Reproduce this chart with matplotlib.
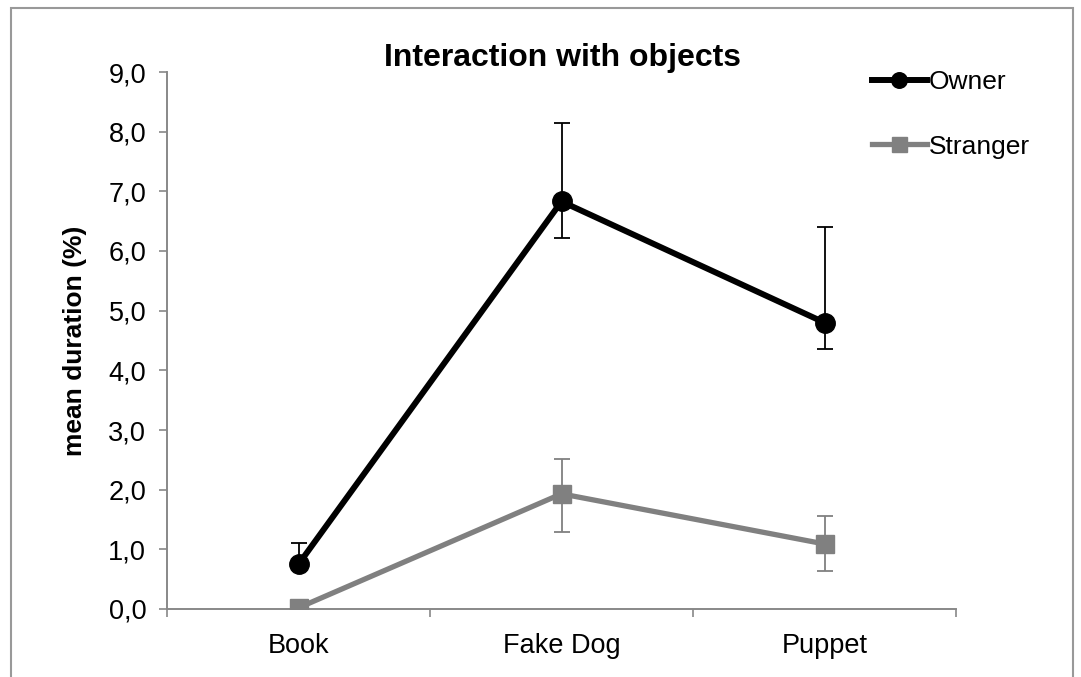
import numpy as np
import matplotlib.pyplot as plt
from matplotlib.patches import Rectangle
from matplotlib.ticker import FixedLocator

plt.rcParams['font.family'] = ['Liberation Sans', 'DejaVu Sans']

# data
categories = ['Book', 'Fake Dog', 'Puppet']
owner = [0.75, 6.83, 4.80]
owner_hi = [1.10, 8.14, 6.41]
owner_lo = [0.67, 6.21, 4.35]
stranger = [0.02, 1.93, 1.09]
stranger_hi = [0.02, 2.52, 1.56]
stranger_lo = [0.02, 1.29, 0.64]
yticks = np.arange(0, 10, 1)

fig = plt.figure(figsize=(10.81, 6.77), dpi=100)
ax = fig.add_axes([167 / 1081, 1 - 609 / 677, (956 - 167) / 1081, (609 - 72) / 677])

x = np.arange(len(categories))

def draw_series(vals, lo, hi, color, marker, lw, ms, label):
    err = [np.array(vals) - np.array(lo), np.array(hi) - np.array(vals)]
    ax.errorbar(x, vals, yerr=err, fmt='none', ecolor=color, elinewidth=1.3,
                capsize=6, capthick=1.3, zorder=2)
    ax.plot(x, vals, color=color, lw=lw, marker=marker, ms=ms,
            solid_joinstyle='round', label=label, zorder=3)

draw_series(owner, owner_lo, owner_hi, 'black', 'o', 4.3, 14, 'Owner')
draw_series(stranger, stranger_lo, stranger_hi, '#808080', 's', 3.8, 13.5, 'Stranger')

ax.set_xlim(-0.5, 2.5)
ax.set_ylim(0, 9)
ax.set_yticks(yticks)
ax.set_yticklabels([f'{v:.1f}'.replace('.', ',') for v in yticks], fontsize=19.5)
ax.set_xticks(x)
ax.set_xticklabels(categories, fontsize=19.5)
ax.xaxis.set_minor_locator(FixedLocator([-0.5, 0.5, 1.5, 2.5]))
ax.tick_params(axis='x', which='major', length=0, pad=17)
ax.tick_params(axis='x', which='minor', length=6, width=1.2, color='#888888', direction='out')
ax.tick_params(axis='y', length=6, width=1.2, color='#888888', direction='out', pad=9)

for s in ['top', 'right']:
    ax.spines[s].set_visible(False)
for s in ['left', 'bottom']:
    ax.spines[s].set_color('#888888')
    ax.spines[s].set_linewidth(1.4)

ax.set_ylabel('mean duration (%)', fontsize=19, fontweight='bold', labelpad=15)
fig.text(562 / 1081, 1 - 58 / 677, 'Interaction with objects', fontsize=23,
         fontweight='bold', ha='center', va='center')

leg = ax.legend(loc='upper left', bbox_to_anchor=(848 / 1081, 1 - 46 / 677),
                bbox_transform=fig.transFigure, frameon=False, fontsize=19,
                handlelength=2.1, handletextpad=0.05, labelspacing=1.55,
                markerscale=0.8)

# outer frame
fig.patches.append(Rectangle((11 / 1081, -0.05), (1073 - 11) / 1081, 1.05 - 8 / 677,
                             transform=fig.transFigure, fill=False,
                             edgecolor='#999999', lw=1.5))

fig.savefig('out.png', dpi=100)
